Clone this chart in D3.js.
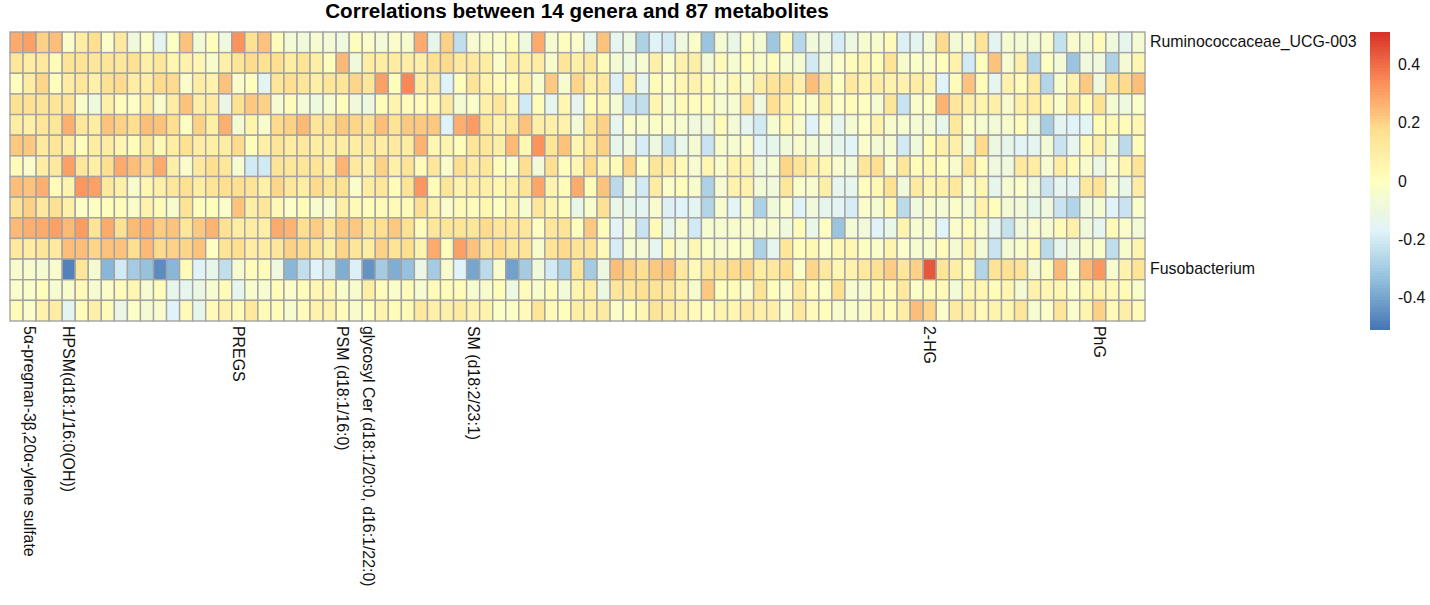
<!DOCTYPE html>
<meta charset="utf-8">
<style>
  body {
    font-family: "Liberation Sans", sans-serif;
    margin: 0;
    background: #fff;
  }

  svg {
    display: block;
  }

  .cell {
    stroke: #a3a3a3;
    stroke-width: 1.4;
  }

  .axis text {
    font-family: "Liberation Sans", sans-serif;
    font-size: 15.9px;
    fill: #111;
  }

  .axis path {
    display: none;
  }
</style>
<body>
  <svg id="chart" width="1430" height="605"></svg>

  <script src="https://d3js.org/d3.v7.min.js"></script>
  <script>
    const title = "Correlations between 14 genera and 87 metabolites";

    // one array per genus, 87 metabolites each
    const r1 = [.28,.3,.2,.24,-.03,.1,.17,-.02,.12,-.08,-.02,-.15,-.01,.23,-.07,.01,-.09,.33,.16,.23,.02,-.07,-.08,-.05,-.07,-.09,.01,-.03,-.07,-.03,-.04,.28,-.13,.2,-.24,-.05,-.04,-.03,.02,-.09,.28,-.05,.01,-.03,-.13,.23,-.14,-.1,-.28,-.17,-.2,-.09,-.03,-.32,-.06,-.12,-.02,-.06,-.31,.02,-.26,-.08,-.09,-.19,-.1,-.05,-.04,.03,-.18,-.15,-.06,.18,-.07,-.04,.15,-.15,-.05,-.06,-.07,-.03,-.23,-.04,-.06,.03,-.09,-.14,-.06];
    const r2 = [.13,.1,.12,.03,.15,.15,.13,.14,.13,.16,.08,.13,.05,.07,.05,-.04,.08,.14,.18,.16,.17,.1,.15,.09,.01,.25,-.08,.1,.1,.1,.1,.08,.16,.18,.12,.12,.1,-.03,.1,.08,.1,-.04,.14,.09,.13,.02,-.06,-.09,-.05,.08,-.02,.07,.09,-.07,.03,-.05,.01,-.04,.01,-.05,-.06,-.2,-.07,-.03,.02,.05,.01,.15,-.04,-.02,-.03,.01,.07,-.2,.01,.23,-.05,.08,-.27,-.01,-.07,-.32,-.09,-.09,-.28,-.06,.05];
    const r3 = [.01,.1,.19,.01,.1,.13,.08,.16,.18,.1,.1,.18,.18,-.03,.1,.07,.23,-.03,.01,-.15,.14,.17,.14,.09,.14,.14,.19,.14,.3,.01,.35,.1,.12,-.17,.01,.15,.07,.03,.01,.1,-.04,.22,-.05,.19,.09,.12,-.18,.08,-.14,.02,-.02,.05,.07,.03,-.03,.04,-.04,.1,.15,.16,.08,.24,.13,-.01,.12,.06,.1,.07,.07,.1,.06,-.17,.02,.23,.02,-.14,.07,.02,.11,-.27,-.04,.07,.22,-.08,.16,.18,.24];
    const r4 = [.16,.16,.15,.14,.15,-.03,-.09,.08,.02,-.01,.1,-.03,.1,.23,.09,.11,-.11,.16,.22,.2,-.05,.02,-.07,-.09,-.05,.01,-.08,-.1,.02,.06,.02,.02,.03,.12,-.06,-.03,.08,.14,.04,-.2,.02,-.14,.05,-.14,.02,.04,-.06,-.22,-.24,.05,-.04,.03,.01,.02,-.05,-.05,.13,-.09,.17,.08,.01,-.03,.09,-.02,.02,-.01,-.05,.14,-.22,-.03,-.01,.26,.13,.09,.06,.08,-.04,.08,.1,.05,-.03,.11,.02,.16,-.06,-.09,-.02];
    const r5 = [.1,.08,.13,.13,.27,.13,.1,.23,.2,.17,.24,.23,.17,-.01,.2,.09,.27,-.06,.06,-.04,.18,.2,.25,.14,.16,.22,.19,.16,.24,.15,.22,.22,.22,-.17,.27,.31,.14,.07,.12,.23,.09,.08,.07,-.07,.13,.2,-.14,-.03,-.04,-.02,-.03,-.05,-.08,-.08,.02,-.07,-.14,-.2,-.05,.04,-.04,-.17,-.03,-.14,-.06,-.02,.07,-.04,-.05,-.06,-.06,-.13,.12,-.02,-.05,-.07,-.04,.02,-.1,-.29,-.15,-.17,-.16,.02,.04,.02,.05];
    const r6 = [.22,.22,.12,.14,.1,.01,.1,.1,.05,.01,.13,.04,.1,.16,.1,.09,.1,.18,.02,.09,.14,.1,.12,.1,.1,.1,.1,.12,.1,.11,.1,.26,.05,.06,.01,.14,.13,.09,.25,.04,.33,.14,.23,.05,.12,.2,-.13,-.08,-.19,-.1,-.23,-.12,-.06,-.22,-.04,-.05,-.03,-.16,-.13,-.08,-.04,-.07,-.09,-.13,-.16,-.03,-.06,-.05,-.2,-.08,.02,.08,.08,-.07,.18,-.1,-.13,-.16,-.15,-.07,-.22,-.14,.03,.09,-.06,-.25,.02];
    const r7 = [.02,-.03,.1,.12,.3,.13,.09,.17,.28,.24,.19,.28,.09,-.03,.12,.17,.13,-.05,-.2,-.2,.15,.13,.14,.15,.1,.26,.12,.08,.2,.08,.15,.02,.13,-.03,.17,.11,.13,.02,-.03,.17,-.07,.17,.01,.05,.18,.05,.02,.19,-.02,.14,.1,.03,-.05,.05,-.03,.07,.07,-.08,-.05,.19,.15,.08,.05,-.04,-.07,.13,.17,-.03,.13,.02,.04,.01,-.04,.14,.02,-.09,-.09,.12,.1,-.05,.1,.03,-.04,-.11,-.03,.05,.15];
    const r8 = [.24,.23,.27,.02,.06,.32,.3,.12,.08,-.04,.05,.08,.13,.16,.1,.15,.17,.17,.15,.08,.19,.13,.1,.18,.14,.16,-.03,.1,.13,.02,.15,.32,.02,.14,.07,.1,.09,.05,.08,.15,.29,.06,.02,.28,.02,.23,-.25,-.07,-.2,.1,-.02,.01,-.04,-.28,-.05,.07,.07,-.07,-.08,.13,-.03,-.04,.09,-.14,-.13,.01,.04,.16,-.08,.11,.05,.08,.12,-.03,.05,-.13,-.05,-.02,-.08,-.22,-.14,-.15,.12,.15,-.04,-.12,.1];
    const r9 = [.15,.2,.12,.16,.08,-.02,-.01,.01,.02,-.03,.07,.02,-.04,.15,.01,.01,-.03,.23,.09,.13,.04,-.02,.02,-.04,-.04,.09,.03,.01,.03,.03,.03,.17,.06,-.03,.03,.02,.05,-.01,.06,-.05,.13,.05,.02,-.12,-.04,.16,-.12,-.13,-.15,-.04,-.18,-.17,-.15,-.27,-.04,-.16,-.04,-.28,-.08,-.03,-.17,-.08,-.13,-.16,-.19,-.03,-.05,.04,-.25,-.09,-.04,-.06,-.03,-.07,.07,.01,-.06,-.07,-.13,-.09,-.22,-.27,-.09,-.06,-.17,-.22,-.03];
    const r10 = [.25,.27,.28,.3,.25,.31,.15,.28,.16,.25,.27,.21,.23,.13,.22,.26,.16,.1,.1,.09,.28,.26,.17,.21,.13,.22,.22,.14,.17,.22,.16,.02,.13,.14,.14,.14,.18,.13,.13,.13,-.01,.13,.15,.01,.22,.02,-.16,-.06,-.22,.03,-.13,-.05,-.2,-.05,-.05,-.04,-.04,-.05,-.04,-.09,.02,-.12,-.01,-.32,-.07,-.08,-.17,-.12,.06,-.05,-.04,-.17,-.03,.02,-.04,-.14,-.23,-.08,-.04,-.05,.03,.08,-.08,-.14,.03,-.03,-.07];
    const r11 = [.12,.1,.14,.12,.24,.24,.19,.23,.23,.17,.25,.18,.2,.19,.23,-.01,.15,.17,.1,.1,.13,.2,.18,.14,.09,.19,.14,.1,.2,.15,.17,.06,.28,.02,.3,.23,.15,.18,.13,.15,-.04,.15,.18,.15,.15,.03,-.19,-.05,-.06,-.14,.03,-.06,.04,-.02,-.04,-.02,-.03,-.28,-.14,.13,.01,.04,-.02,.04,.05,-.01,-.03,.06,-.03,-.05,-.04,.02,-.06,.06,-.07,-.22,-.06,-.03,.03,-.25,-.13,-.08,-.04,-.03,-.24,-.04,.06];
    const r12 = [-.04,-.04,-.06,-.04,-.48,.14,-.06,-.36,-.2,-.3,-.33,-.46,-.36,.02,-.17,-.13,-.24,-.05,.02,.02,-.09,-.36,-.24,-.17,-.21,-.38,-.18,-.44,-.3,-.38,-.33,-.11,-.3,-.04,-.17,-.4,-.25,-.04,-.41,-.3,-.08,-.2,-.28,.14,-.3,-.1,.24,.2,.17,.22,.23,.12,.03,.13,.14,.18,.19,.1,.12,.17,-.02,.19,.12,.05,.07,.12,.16,.21,.13,.2,.44,.14,.09,.03,-.27,.15,.16,.15,-.06,.01,.25,-.03,.25,.32,-.05,.07,.15];
    const r13 = [-.03,-.03,.01,-.05,-.04,.03,-.05,-.03,.02,.05,-.05,.01,-.13,-.14,-.11,-.05,.02,-.14,-.04,-.05,.02,-.03,.02,.05,.05,-.03,-.04,.09,.02,-.03,.02,-.05,.02,.02,.02,-.05,-.04,.02,-.1,.02,-.04,.02,-.07,.06,.1,-.1,.13,.13,.16,.15,.13,.07,-.04,.22,.01,.02,-.03,.15,.01,-.03,.12,.02,-.02,.17,-.05,-.05,.03,.03,.12,-.02,.02,.03,-.07,.05,.05,.02,.05,-.06,.07,.05,.05,-.02,.05,.06,.04,.03,-.03];
    const r14 = [.02,-.03,.07,.1,-.15,.02,.08,.02,-.11,-.02,-.06,-.04,-.17,.03,-.13,.03,.07,.03,.12,.03,.02,-.05,.02,.07,.07,.02,-.04,.01,.06,.02,.03,.12,.08,.08,.11,.07,.07,-.02,-.02,.03,.14,.03,.01,.09,.08,.11,-.03,.01,.05,.15,.1,.07,.03,.01,.06,.05,.11,.08,.08,-.03,.12,.03,.01,-.04,-.03,-.03,.05,.02,.09,.24,.19,-.03,.11,.09,.03,.06,.05,.13,-.05,-.02,.14,-.03,.06,.2,.03,.09,.03];
    const rows = [r1, r2, r3, r4, r5, r6, r7, r8, r9, r10, r11, r12, r13, r14];

    // only a few rows and columns carry a label
    const rowLabels = {0: "Ruminococcaceae_UCG-003", 11: "Fusobacterium"};
    const colLabels = {
      1: "5α-pregnan-3β,20α-ylene sulfate",
      4: "HPSM(d18:1/16:0(OH))",
      17: "PREGS",
      25: "PSM (d18:1/16:0)",
      27: "glycosyl Cer (d18:1/20:0, d16:1/22:0)",
      35: "SM (d18:2/23:1)",
      70: "2-HG",
      83: "PhG"
    };

    const palette = ["#4575b4", "#91bfdb", "#e0f3f8", "#ffffbf", "#fee090", "#fc8d59", "#d73027"];
    const maxValue = 0.511;
    const legendTicks = [-0.4, -0.2, 0, 0.2, 0.4];

    const colorScale = d3.scaleLinear()
      .domain(d3.range(7).map(i => -maxValue + i * maxValue / 3))
      .range(palette)
      .clamp(true);

    const svg = d3.select("#chart");

    const x = d3.scaleBand().domain(d3.range(87)).range([10, 1145]);
    const y = d3.scaleBand().domain(d3.range(14)).range([32, 321]);

    svg.append("text")
      .attr("x", 577)
      .attr("y", 18)
      .attr("text-anchor", "middle")
      .attr("font-size", 20.65)
      .attr("font-weight", "bold")
      .attr("fill", "#000")
      .text(title);

    const cells = rows.flatMap((row, i) => row.map((v, j) => ({ row: i, col: j, value: v })));

    svg.append("g")
      .selectAll("rect")
      .data(cells)
      .join("rect")
      .attr("class", "cell")
      .attr("x", d => x(d.col))
      .attr("y", d => y(d.row))
      .attr("width", x.bandwidth())
      .attr("height", y.bandwidth())
      .attr("fill", d => colorScale(d.value));

    svg.append("g")
      .attr("class", "axis")
      .attr("transform", "translate(1145,0)")
      .call(d3.axisRight(y)
        .tickValues(Object.keys(rowLabels).map(Number))
        .tickSize(0)
        .tickPadding(5)
        .tickFormat(d => rowLabels[d]));

    svg.append("g")
      .attr("class", "axis")
      .attr("transform", "translate(0,321)")
      .call(d3.axisBottom(x)
        .tickValues(Object.keys(colLabels).map(Number))
        .tickSize(0)
        .tickFormat(d => colLabels[d]))
      .call(g => g.selectAll("text")
        .attr("transform", "rotate(90)")
        .attr("x", 5)
        .attr("y", 0)
        .attr("dy", "0.35em")
        .attr("text-anchor", "start"));

    // colour key
    const legendY = d3.scaleLinear().domain([-maxValue, maxValue]).range([330, 32]);
    const legendSteps = d3.range(100).map(i => -maxValue + (i + 0.5) * 2 * maxValue / 100);

    svg.append("g")
      .attr("shape-rendering", "crispEdges")
      .selectAll("rect")
      .data(legendSteps)
      .join("rect")
      .attr("x", 1370)
      .attr("width", 20)
      .attr("y", d => legendY(d) - 1.5)
      .attr("height", 3.1)
      .attr("fill", d => colorScale(d));

    svg.append("g")
      .attr("class", "axis")
      .attr("transform", "translate(1390,0)")
      .call(d3.axisRight(legendY)
        .tickValues(legendTicks)
        .tickSize(0)
        .tickPadding(8)
        .tickFormat(d => d === 0 ? "0" : d));
  </script>
</body>
